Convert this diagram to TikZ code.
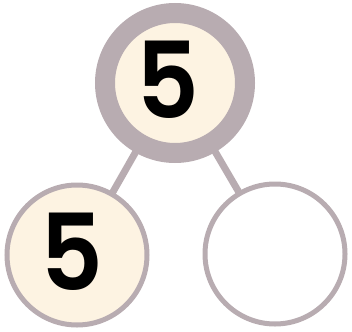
\documentclass[tikz,border=0pt]{standalone}
\usepackage{fontspec}
\newfontfamily\digitfont{Poppins SemiBold}
\definecolor{ringgray}{RGB}{184,172,177}
\definecolor{cream}{RGB}{253,243,226}
\begin{document}
\begin{tikzpicture}[x=1pt,y=-1pt,
  bigring/.style={circle,draw=ringgray,line width=20pt,fill=cream,minimum size=140pt,inner sep=0pt},
  smallring/.style={circle,draw=ringgray,line width=5pt,minimum size=140pt,inner sep=0pt},
  link/.style={draw=ringgray,line width=7pt},
  digit/.style={font=\digitfont\fontsize{106}{106}\selectfont,xscale=0.92}]
\useasboundingbox (0,0) rectangle (352,331);
\coordinate (tc) at (175,83);
\coordinate (lc) at (77,255);
\coordinate (rc) at (275,254);
\draw[link] (tc) -- (lc);
\draw[link] (tc) -- (rc);
\node[bigring] (top) at (tc) {};
\node[smallring,fill=cream] (left) at (lc) {};
\node[smallring,fill=white] (right) at (rc) {};
\node[digit] (topdigit) at (168,80) {5};
\node[digit] (leftdigit) at (72,252) {5};
\end{tikzpicture}
\end{document}
